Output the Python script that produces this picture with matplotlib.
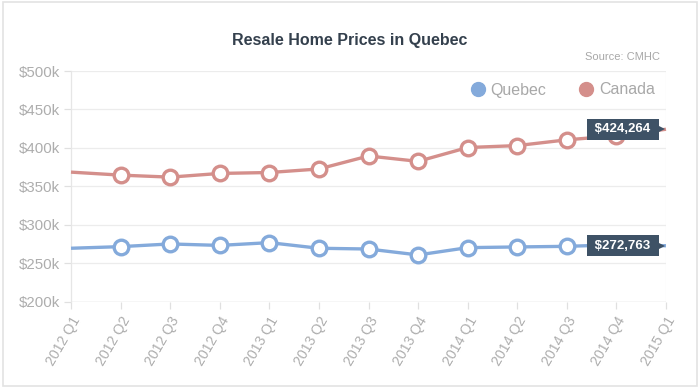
import matplotlib
matplotlib.use("Agg")
import matplotlib.pyplot as plt
from matplotlib.lines import Line2D
from matplotlib.patches import Rectangle
import matplotlib.transforms as mtransforms

plt.rcParams['font.family'] = ['Liberation Sans', 'DejaVu Sans']

quarters = ["2012 Q1", "2012 Q2", "2012 Q3", "2012 Q4",
            "2013 Q1", "2013 Q2", "2013 Q3", "2013 Q4",
            "2014 Q1", "2014 Q2", "2014 Q3", "2014 Q4", "2015 Q1"]
quebec = [269.5, 271.6, 275.1, 273.2, 276.8, 269.5, 268.5, 260.8,
          270.3, 271.2, 272.0, 274.0, 272.763]
canada = [368.5, 364.6, 362.0, 366.8, 368.0, 372.6, 389.5, 382.5,
          400.5, 403.0, 410.5, 415.8, 424.264]
yticks = [200, 250, 300, 350, 400, 450, 500]

c_quebec = "#84aadb"
c_canada = "#d48f8b"
tip_bg = "#3e5266"

fig = plt.figure(figsize=(7.0, 3.88), dpi=100)
ax = fig.add_axes([71/700, 1-301.7/388, 595/700, 230.7/388])

x = list(range(len(quarters)))
mk = list(range(1, len(quarters)-1))
for vals, col in [(canada, c_canada), (quebec, c_quebec)]:
    ax.plot(x, vals, color=col, lw=2.4, marker='o', markevery=mk,
            markersize=10.5, markerfacecolor='white', markeredgecolor=col,
            markeredgewidth=2.4, solid_capstyle='butt', zorder=3, clip_on=False)

ax.set_xlim(0, len(quarters)-1)
ax.set_ylim(200, 500)
ax.set_yticks(yticks)
ax.set_yticklabels([f"${v}k" for v in yticks])
ax.set_xticks(x)
ax.set_xticklabels(quarters, rotation=60, ha='right', rotation_mode='anchor')

ax.grid(axis='y', color='#ececec', lw=0.9)
ax.grid(axis='x', visible=False)
ax.set_axisbelow(True)
for s in ['top', 'right', 'bottom']:
    ax.spines[s].set_visible(False)
ax.spines['left'].set_color('#e6e6e6')
ax.spines['left'].set_linewidth(0.9)
ax.axvline(len(quarters)-1, color='#f0f0f0', lw=0.9, zorder=0)
ax.axhline(200, color='#e0e0e0', lw=1.0, zorder=1)
ax.tick_params(axis='y', colors='#e0e0e0', labelcolor='#adadad', labelsize=10.8,
               length=5, width=0.9, pad=3)
ax.tick_params(axis='x', colors='#e0e0e0', labelcolor='#adadad', labelsize=10.2,
               length=5, width=0.9, pad=4)

# value labels at last point
for vals in [canada, quebec]:
    v = vals[-1]
    off = mtransforms.offset_copy(ax.transData, fig=fig, x=-12, y=0, units='dots')
    ax.text(x[-1], v, f" ${v*1000:,.0f} ", transform=off, ha='right', va='center',
            color='white', fontsize=9.5, fontweight='bold', zorder=6,
            bbox=dict(boxstyle='square,pad=0.35', fc=tip_bg, ec='none'))
    off2 = mtransforms.offset_copy(ax.transData, fig=fig, x=-5, y=0, units='dots')
    ax.plot([x[-1]], [v], marker='>', color=tip_bg, markersize=5.5, transform=off2,
            zorder=5, clip_on=False, linestyle='none', markeredgewidth=0)

# title and source
fig.text(0.5, 1-40/388, "Resale Home Prices in Quebec", ha='center', va='center',
         fontsize=11.5, fontweight='bold', color='#34404d')
fig.text(660/700, 1-57/388, "Source: CMHC", ha='right', va='center',
         fontsize=8, color='#a8a8a8')

# legend
handles = [Line2D([], [], marker='o', linestyle='none', markersize=10,
                  markerfacecolor=c, markeredgecolor=c) for c in (c_quebec, c_canada)]
fig.legend(handles, ["Quebec", "Canada"], ncol=2, frameon=False,
           loc='center right', bbox_to_anchor=(655/700, 1-90/388),
           fontsize=11.5, labelcolor='#a8a8a8', handletextpad=0.3,
           columnspacing=2.0, handlelength=1.0, borderaxespad=0, borderpad=0)

# outer border
fig.add_artist(Rectangle((0.004, 0.006), 0.992, 0.988, transform=fig.transFigure,
                         fill=False, ec='#e3e3e3', lw=1.2))

fig.savefig("out.png", dpi=100, facecolor='white')
